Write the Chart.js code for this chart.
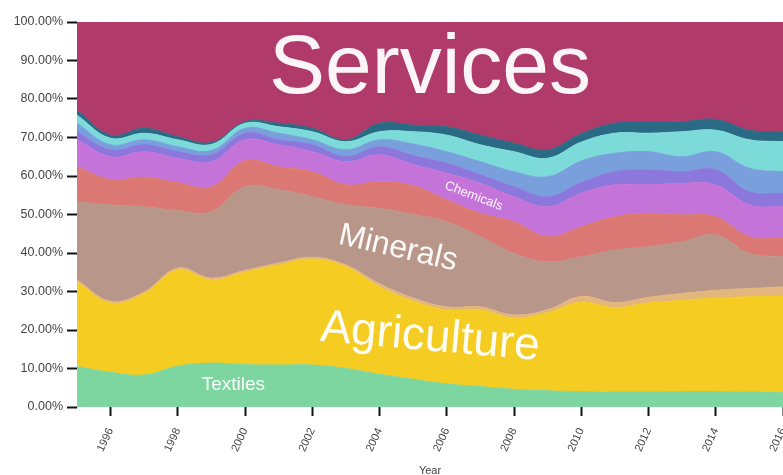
<!DOCTYPE html>
<html>
<head>
<meta charset="utf-8">
<script src="https://cdn.jsdelivr.net/npm/chart.js@4.4.1/dist/chart.umd.min.js"></script>
<style>
  html, body { margin: 0; padding: 0; background: #fff; overflow: hidden; }
  .wrap { position: relative; width: 783px; height: 475px; }
</style>
</head>
<body>
<div class="wrap"><canvas id="chart"></canvas></div>
<script>
// share of exports by sector, percent, 1995-2016
const years = [1995, 1996, 1997, 1998, 1999, 2000, 2001, 2002, 2003, 2004, 2005,
               2006, 2007, 2008, 2009, 2010, 2011, 2012, 2013, 2014, 2015, 2016];

const textiles    = [10.5, 9.0, 8.3, 10.6, 11.4, 11.0, 10.9, 10.9, 10.0, 8.5, 7.2, 6.0, 5.3, 4.6, 4.2, 4.0, 3.9, 3.9, 4.0, 4.0, 3.9, 3.7];
const agriculture = [22.0, 18.0, 21.1, 25.0, 21.6, 24.0, 26.0, 27.5, 26.4, 22.7, 20.3, 19.2, 19.9, 18.5, 20.3, 23.2, 21.9, 23.1, 23.7, 24.3, 24.7, 25.1];
const stone       = [0.5, 0.5, 0.5, 0.5, 0.5, 0.5, 0.5, 0.5, 0.5, 0.8, 0.8, 0.8, 0.8, 0.8, 0.8, 1.5, 1.3, 1.5, 1.8, 2.0, 2.2, 2.4];
const minerals    = [20.3, 25.0, 22.1, 14.9, 17.2, 21.7, 19.0, 15.7, 15.6, 19.6, 21.7, 22.1, 18.2, 16.0, 12.4, 10.3, 13.7, 13.1, 13.4, 14.4, 9.1, 7.8];
const metals      = [9.1, 6.6, 7.7, 7.3, 6.5, 6.8, 6.0, 6.5, 5.2, 6.9, 7.5, 5.7, 6.1, 8.2, 6.5, 7.8, 8.6, 8.7, 7.0, 4.7, 4.3, 4.8];
const chemicals   = [7.0, 5.9, 6.6, 6.3, 6.5, 5.4, 5.7, 5.2, 6.0, 7.0, 5.5, 6.9, 7.8, 6.5, 7.8, 8.7, 8.3, 7.4, 8.2, 8.3, 8.3, 8.2];
const vehicles    = [2.1, 1.8, 1.8, 1.7, 1.8, 1.7, 1.3, 1.8, 1.3, 2.1, 2.3, 2.6, 2.2, 2.6, 2.6, 2.8, 3.4, 3.9, 3.0, 3.9, 3.4, 3.5];
const machinery   = [2.2, 1.3, 1.3, 1.3, 1.1, 1.3, 1.7, 1.3, 1.8, 1.8, 3.0, 3.0, 3.4, 3.9, 5.2, 5.6, 4.8, 4.7, 3.9, 4.7, 6.1, 5.6];
const electronics = [2.1, 1.7, 1.7, 1.8, 1.6, 1.3, 1.7, 2.1, 2.1, 2.1, 3.2, 4.3, 4.4, 5.2, 4.8, 4.9, 5.2, 4.8, 6.5, 5.6, 7.4, 7.8];
const other       = [1.3, 0.8, 1.3, 0.8, 0.5, 0.4, 0.9, 0.9, 0.5, 2.2, 1.7, 2.2, 2.5, 2.2, 2.2, 2.2, 2.6, 3.0, 2.6, 2.8, 2.5, 2.6];
const services    = [22.9, 29.4, 27.6, 29.8, 31.3, 25.9, 26.3, 27.6, 30.6, 26.3, 26.8, 27.2, 29.4, 31.5, 33.2, 29.0, 26.3, 25.9, 25.9, 25.3, 28.1, 28.5];

const yTicks = [0, 10, 20, 30, 40, 50, 60, 70, 80, 90, 100];
const xTicks = [1996, 1998, 2000, 2002, 2004, 2006, 2008, 2010, 2012, 2014, 2016];

const series = [
    { name: 'Textiles',    values: textiles,    color: '#7dd6a0' },
    { name: 'Agriculture', values: agriculture, color: '#f5cd22' },
    { name: 'Stone',       values: stone,       color: '#e2b67c' },
    { name: 'Minerals',    values: minerals,    color: '#b89689' },
    { name: 'Metals',      values: metals,      color: '#dc7873' },
    { name: 'Chemicals',   values: chemicals,   color: '#c474d9' },
    { name: 'Vehicles',    values: vehicles,    color: '#8c78dc' },
    { name: 'Machinery',   values: machinery,   color: '#79a0dd' },
    { name: 'Electronics', values: electronics, color: '#7cdbd9' },
    { name: 'Other',       values: other,       color: '#2b6a84' },
    { name: 'Services',    values: services,    color: '#b03a69' }
];

// in-chart labels, anchored in data space (year, percent)
const LABELS = [
    { text: 'Services',    year: 2005.5, pct: 87.7, size: 84, angle: 0 },
    { text: 'Agriculture', year: 2005.5, pct: 18.0, size: 46, angle: 5 },
    { text: 'Minerals',    year: 2004.55, pct: 41.2, size: 32, angle: 13 },
    { text: 'Textiles',    year: 1999.65, pct: 5.9, size: 19, angle: 0 },
    { text: 'Chemicals',   year: 2006.8, pct: 54.8, size: 13, angle: 21 }
];

const FONT = '"Liberation Sans", Arial, Helvetica, sans-serif';

const areaLabels = {
    id: 'areaLabels',
    afterDatasetsDraw(chart) {
        const { ctx, scales: { x, y } } = chart;
        LABELS.forEach(l => {
            ctx.save();
            ctx.translate(x.getPixelForValue(l.year), y.getPixelForValue(l.pct));
            ctx.rotate(l.angle * Math.PI / 180);
            ctx.font = `${l.size}px ${FONT}`;
            ctx.fillStyle = 'rgba(255,255,255,0.95)';
            ctx.textAlign = 'center';
            ctx.textBaseline = 'middle';
            ctx.fillText(l.text, 0, 0);
            ctx.restore();
        });
    }
};

new Chart(document.getElementById('chart'), {
    type: 'line',
    data: {
        datasets: series.map((s, i) => ({
            label: s.name,
            data: years.map((yr, j) => ({ x: yr, y: s.values[j] })),
            backgroundColor: s.color,
            borderColor: s.color,
            borderWidth: 1,
            pointRadius: 0,
            tension: 0.4,
            fill: i === 0 ? 'origin' : '-1'
        }))
    },
    options: {
        responsive: true,
        maintainAspectRatio: false,
        animation: false,
        layout: { padding: { top: 22, left: 0, right: 0, bottom: 0 } },
        plugins: { legend: { display: false }, tooltip: { enabled: false } },
        scales: {
            x: {
                type: 'linear',
                min: 1995,
                max: 2016,
                afterBuildTicks: scale => { scale.ticks = xTicks.map(v => ({ value: v })); },
                afterFit: scale => { scale.height = 68; scale.paddingLeft = 0; scale.paddingRight = 0; },
                grid: { drawOnChartArea: false, tickLength: 9, tickColor: '#111', tickWidth: 2 },
                border: { display: false },
                ticks: {
                    minRotation: 65, maxRotation: 65, padding: 10,
                    color: '#444', font: { family: FONT, size: 11 },
                    callback: v => String(v)
                },
                title: { display: true, text: 'Year', color: '#444', font: { family: FONT, size: 11 }, padding: { top: 0, bottom: -3 } }
            },
            y: {
                stacked: true,
                min: 0,
                max: 100,
                afterBuildTicks: scale => { scale.ticks = yTicks.map(v => ({ value: v })); },
                afterFit: scale => { scale.width = 77; },
                grid: { drawOnChartArea: false, tickLength: 10, tickColor: '#111', tickWidth: 2 },
                border: { display: true, color: '#cfcfcf', width: 1 },
                ticks: {
                    padding: 4, color: '#444', font: { family: FONT, size: 12.5 },
                    callback: v => v.toFixed(2) + '%'
                }
            }
        }
    },
    plugins: [areaLabels]
});
</script>
</body>
</html>
